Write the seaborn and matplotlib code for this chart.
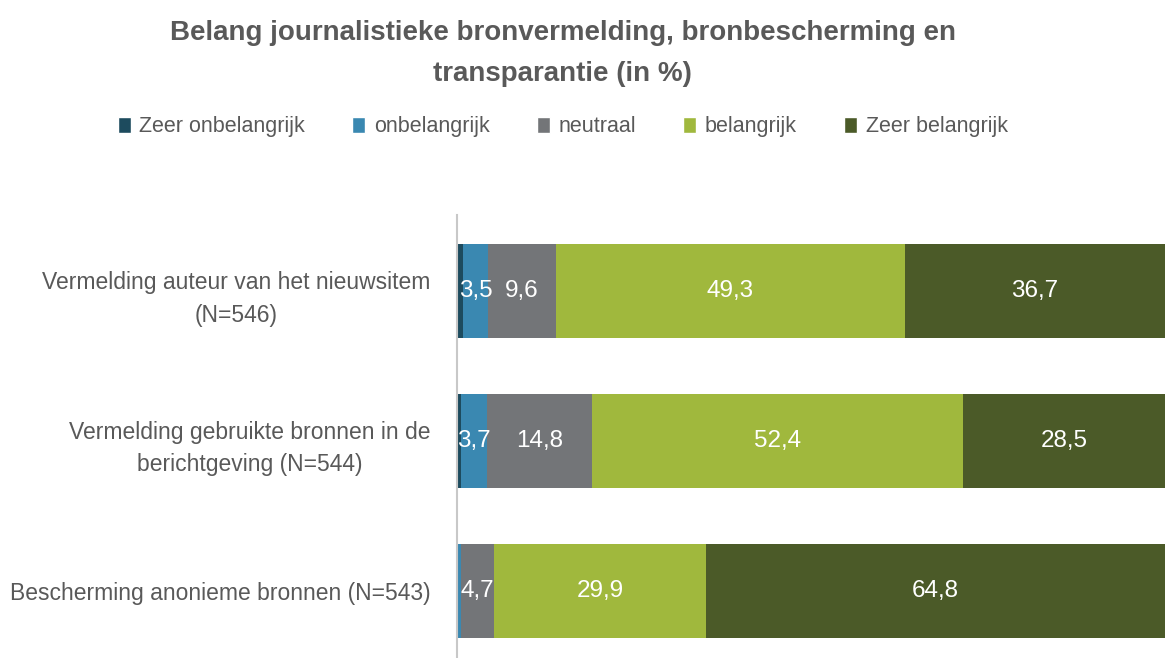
import matplotlib

matplotlib.use("Agg")
import matplotlib.pyplot as plt  # noqa: E402
import pandas as pd  # noqa: E402
import seaborn as sns  # noqa: E402
from matplotlib.patches import Patch  # noqa: E402

ITEMS = [
    "Vermelding auteur van het nieuwsitem\n(N=546)",
    "Vermelding gebruikte bronnen in de\nberichtgeving (N=544)",
    "Bescherming anonieme bronnen (N=543)",
]
LEVELS = ["Zeer onbelangrijk", "onbelangrijk", "neutraal", "belangrijk", "Zeer belangrijk"]
ZEER_ONBELANGRIJK = [0.9, 0.6, 0.2]
ONBELANGRIJK = [3.5, 3.7, 0.4]
NEUTRAAL = [9.6, 14.8, 4.7]
BELANGRIJK = [49.3, 52.4, 29.9]
ZEER_BELANGRIJK = [36.7, 28.5, 64.8]

COLORS = ["#1D4B5E", "#3A88B1", "#737578", "#A0B83D", "#4B5A28"]
TEXT = "#595959"
MIN_LABEL = 3.0  # smaller segments stay unlabelled

sns.set_theme(style="white")
plt.rcParams["font.family"] = ["Liberation Sans", "DejaVu Sans"]

df = pd.DataFrame({"item": ITEMS, "Zeer onbelangrijk": ZEER_ONBELANGRIJK,
                   "onbelangrijk": ONBELANGRIJK, "neutraal": NEUTRAAL,
                   "belangrijk": BELANGRIJK, "Zeer belangrijk": ZEER_BELANGRIJK})
cum = df[LEVELS].cumsum(axis=1)

fig = plt.figure(figsize=(11.65, 6.58), dpi=100)
ax = fig.add_axes([0.392, 0.0, 0.608, 0.673])

# stacked bars: draw cumulative totals from the outermost segment inwards
for level, color in reversed(list(zip(LEVELS, COLORS))):
    sns.barplot(x=cum[level], y=df["item"], orient="h", color=color, width=0.627,
                saturation=1, linewidth=0, ax=ax)

for i, row in df.iterrows():
    for level in LEVELS:
        v = row[level]
        if v < MIN_LABEL:
            continue
        mid = cum.loc[i, level] - v / 2
        ax.text(mid, i, f"{v:.1f}".replace(".", ","), ha="center", va="center",
                color="white", fontsize=17.5)

ax.set_xlim(0, 100)
ax.set_ylim(2.447, -0.507)
ax.set(xlabel="", ylabel="", xticks=[])
for side in ["top", "right", "bottom"]:
    ax.spines[side].set_visible(False)
ax.spines["left"].set_color("#C8C8C8")
ax.spines["left"].set_linewidth(1.5)
ax.tick_params(axis="y", length=0, pad=19, labelsize=16.5, labelcolor=TEXT)
for lab in ax.get_yticklabels():
    lab.set_multialignment("center")
    lab.set_linespacing(1.55)

fig.text(0.483, 0.919, "Belang journalistieke bronvermelding, bronbescherming en\ntransparantie (in %)",
         ha="center", va="center", fontsize=20, fontweight="bold", color=TEXT, linespacing=1.75)

handles = [Patch(facecolor=c, label=l) for l, c in zip(LEVELS, COLORS)]
fig.legend(handles=handles, loc="center", bbox_to_anchor=(0.483, 0.807), ncol=5, frameon=False,
           fontsize=15.5, labelcolor=TEXT, handlelength=0.6, handleheight=0.8,
           handletextpad=0.4, columnspacing=2.2)

fig.savefig("out.png", dpi=100, facecolor="white")
